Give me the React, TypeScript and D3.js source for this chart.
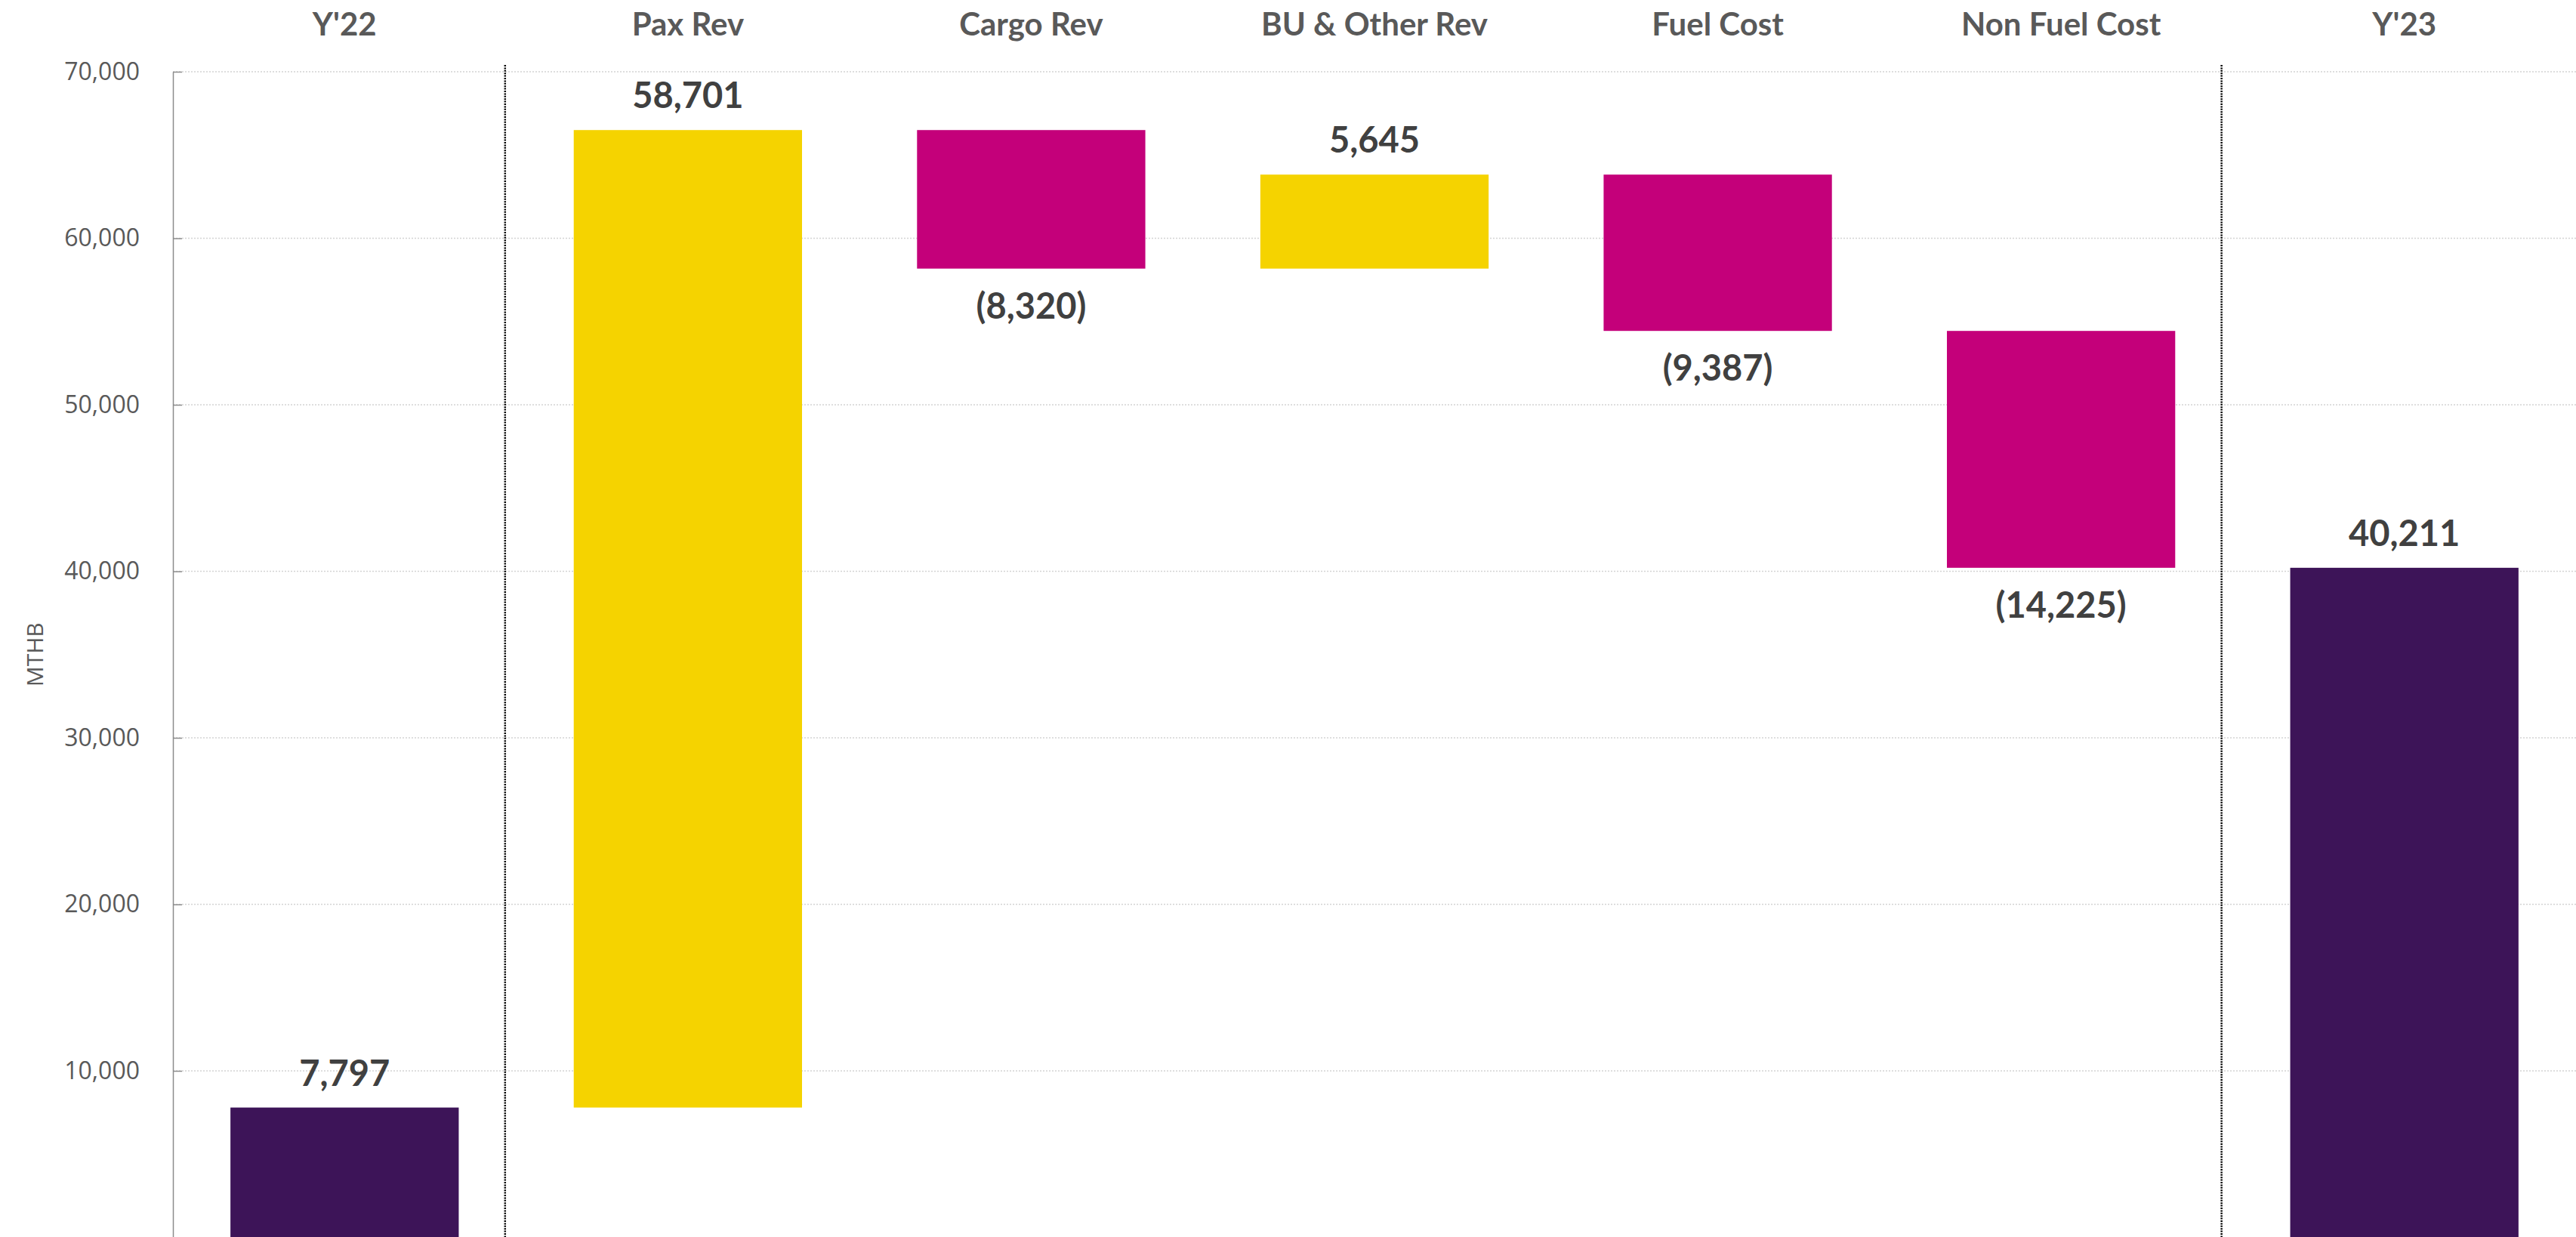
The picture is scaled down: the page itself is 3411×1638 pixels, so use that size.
import React, { useRef, useEffect } from 'react';
import * as d3 from 'd3';

const categories = ["Y'22", 'Pax Rev', 'Cargo Rev', 'BU & Other Rev', 'Fuel Cost', 'Non Fuel Cost', "Y'23"];
const values = [7797, 58701, -8320, 5645, -9387, -14225, 40211];
const isTotal = [true, false, false, false, false, false, true];
const yTicks = [10000, 20000, 30000, 40000, 50000, 60000, 70000];
const separatorsBefore = ['Pax Rev', "Y'23"];

const PURPLE = '#3d1458';
const YELLOW = '#f5d300';
const MAGENTA = '#c4007a';

export default function App() {
  const ref = useRef<SVGSVGElement>(null);

  useEffect(() => {
    document.body.style.margin = '0';
    const svg = d3.select(ref.current);
    svg.selectAll('*').remove();

    const width = 3411;
    const height = 1638;
    const margin = { top: 95, right: 0, bottom: 0, left: 229 };

    // running totals for the waterfall
    let running = 0;
    const bars = categories.map((c, i) => {
      const v = values[i];
      let y0: number, y1: number;
      if (isTotal[i]) {
        y0 = 0;
        y1 = v;
        running = v;
      } else {
        y0 = running;
        y1 = running + v;
        running = y1;
      }
      return { cat: c, value: v, lo: Math.min(y0, y1), hi: Math.max(y0, y1), total: isTotal[i] };
    });

    const x = d3
      .scaleBand()
      .domain(categories)
      .range([margin.left, width - margin.right])
      .paddingInner(0.335)
      .paddingOuter(0.1675);

    const y = d3
      .scaleLinear()
      .domain([0, 70000])
      .range([height - margin.bottom + 0.5, margin.top]);

    svg.attr('viewBox', `0 0 ${width} ${height}`);

    // gridlines
    svg
      .append('g')
      .selectAll('line')
      .data(yTicks)
      .join('line')
      .attr('x1', margin.left)
      .attr('x2', width)
      .attr('y1', d => y(d))
      .attr('y2', d => y(d))
      .attr('stroke', '#d4d4d4')
      .attr('stroke-width', 1.5)
      .attr('stroke-dasharray', '2,2');

    // dotted separators
    svg
      .append('g')
      .selectAll('line')
      .data(separatorsBefore)
      .join('line')
      .attr('x1', d => (x(d) as number) - x.step() * 0.2)
      .attr('x2', d => (x(d) as number) - x.step() * 0.2)
      .attr('y1', margin.top - 9)
      .attr('y2', height)
      .attr('stroke', '#000')
      .attr('stroke-width', 2.5)
      .attr('stroke-dasharray', '2,1.4');

    // bars
    svg
      .append('g')
      .selectAll('rect')
      .data(bars)
      .join('rect')
      .attr('x', d => x(d.cat) as number)
      .attr('width', x.bandwidth())
      .attr('y', d => y(d.hi))
      .attr('height', d => y(d.lo) - y(d.hi))
      .attr('fill', d => (d.total ? PURPLE : d.value >= 0 ? YELLOW : MAGENTA));

    // y axis
    const yAxis = svg
      .append('g')
      .attr('transform', `translate(${margin.left},0)`)
      .call(
        d3
          .axisLeft(y)
          .tickValues(yTicks)
          .tickFormat(d3.format(','))
          .tickSizeInner(-12)
          .tickSizeOuter(0)
          .tickPadding(44)
      );
    yAxis.select('.domain').attr('stroke', '#8c8c8c').attr('stroke-width', 1.5);
    yAxis.selectAll('.tick line').attr('stroke', '#8c8c8c').attr('stroke-width', 1.5);
    yAxis
      .selectAll('.tick text')
      .attr('fill', '#595959')
      .style('font-family', '"Open Sans", sans-serif')
      .style('font-size', '32px');

    // y axis title
    svg
      .append('text')
      .attr('transform', `translate(45,${(y(0) + y(70000)) / 2}) rotate(-90)`)
      .attr('text-anchor', 'middle')
      .attr('dominant-baseline', 'central')
      .attr('fill', '#595959')
      .style('font-family', '"Open Sans", sans-serif')
      .style('font-size', '30px')
      .text('MTHB');

    // category labels on top
    svg
      .append('g')
      .selectAll('text')
      .data(categories)
      .join('text')
      .attr('x', d => (x(d) as number) + x.bandwidth() / 2)
      .attr('y', 47)
      .attr('text-anchor', 'middle')
      .attr('fill', '#595959')
      .style('font-family', 'Lato, sans-serif')
      .style('font-weight', 700)
      .style('font-size', '42px')
      .text(d => d);

    // value labels
    const fmt = d3.format(',');
    svg
      .append('g')
      .selectAll('text')
      .data(bars)
      .join('text')
      .attr('x', d => (x(d.cat) as number) + x.bandwidth() / 2)
      .attr('y', d => (d.value >= 0 ? y(d.hi) - 29 : y(d.lo) + 66))
      .attr('text-anchor', 'middle')
      .attr('fill', '#404040')
      .style('font-family', 'Lato, sans-serif')
      .style('font-weight', 700)
      .style('font-size', '47px')
      .text(d => (d.value < 0 ? `(${fmt(-d.value)})` : fmt(d.value)));
  }, []);

  return <svg ref={ref} width={3411} height={1638} style={{ display: 'block' }} />;
}
